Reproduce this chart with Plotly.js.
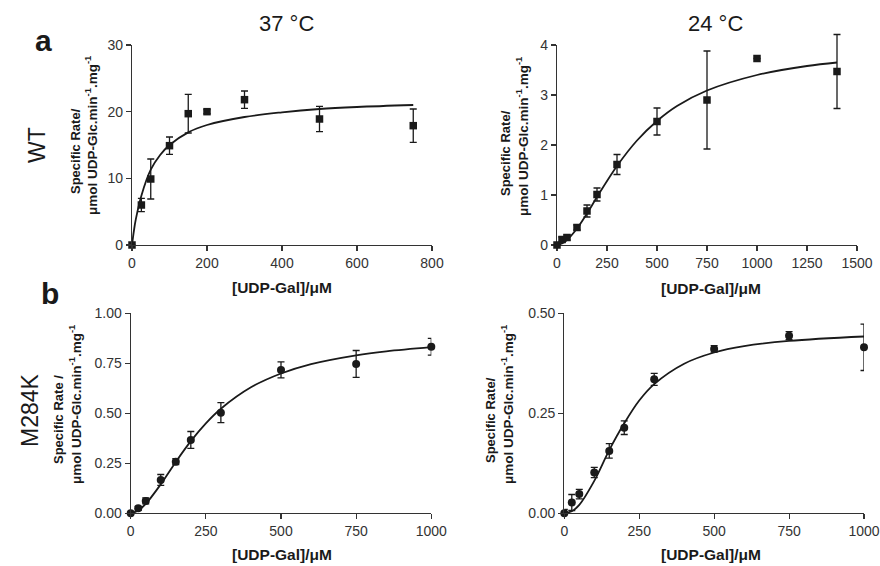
<!DOCTYPE html>
<html>
<head>
<meta charset="utf-8">
<script src="https://cdn.plot.ly/plotly-3.0.1.min.js"></script>
<style>html,body{margin:0;padding:0;background:#fff;}#chart{width:880px;height:566px;}</style>
</head>
<body>
<div id="chart"></div>
<script>
// ---- Data ----
// WT, 37 °C
const wt37X   = [0, 25, 50, 100, 150, 200, 300, 500, 750];
const wt37Y   = [0, 6.0, 9.9, 14.9, 19.7, 20.0, 21.8, 18.9, 17.9];
const wt37Err = [0, 1.0, 3.0, 1.3, 2.9, 0.3, 1.3, 1.9, 2.5];
const wt37FitX = [0, 5, 10, 25, 50, 75, 100, 150, 200, 300, 400, 500, 600, 750];
const wt37FitY = [0, 2.1, 3.8, 7.4, 11.3, 13.5, 15.0, 16.9, 18.0, 19.2, 19.9, 20.4, 20.7, 21.0];
// WT, 24 °C
const wt24X   = [0, 25, 50, 100, 150, 200, 300, 500, 750, 1000, 1400];
const wt24Y   = [0, 0.11, 0.15, 0.35, 0.68, 1.01, 1.61, 2.47, 2.90, 3.73, 3.47];
const wt24Err = [0, 0.05, 0.05, 0.05, 0.12, 0.13, 0.20, 0.27, 0.98, 0, 0.74];
const wt24FitX = [0, 25, 50, 100, 150, 200, 300, 400, 500, 600, 750, 1000, 1250, 1400];
const wt24FitY = [0, 0.03, 0.10, 0.33, 0.63, 0.96, 1.58, 2.09, 2.48, 2.78, 3.09, 3.40, 3.58, 3.65];
// M284K, 37 °C
const m37X   = [0, 25, 50, 100, 150, 200, 300, 500, 750, 1000];
const m37Y   = [0, 0.025, 0.062, 0.167, 0.258, 0.367, 0.503, 0.717, 0.747, 0.833];
const m37Err = [0, 0.01, 0.015, 0.027, 0.015, 0.042, 0.05, 0.04, 0.067, 0.042];
const m37FitX = [0, 25, 50, 100, 150, 200, 250, 300, 400, 500, 600, 750, 850, 1000];
const m37FitY = [0, 0.014, 0.047, 0.145, 0.257, 0.361, 0.45, 0.523, 0.630, 0.699, 0.746, 0.790, 0.810, 0.831];
// M284K, 24 °C
const m24X   = [0, 25, 50, 100, 150, 200, 300, 500, 750, 1000];
const m24Y   = [0, 0.027, 0.048, 0.102, 0.156, 0.214, 0.335, 0.411, 0.444, 0.415];
const m24Err = [0.01, 0.02, 0.012, 0.013, 0.018, 0.017, 0.015, 0.008, 0.01, 0.058];
const m24FitX = [0, 25, 50, 100, 150, 200, 250, 300, 400, 500, 600, 750, 1000];
const m24FitY = [0, 0.005, 0.021, 0.081, 0.158, 0.225, 0.282, 0.323, 0.374, 0.402, 0.418, 0.431, 0.442];

const colTitles = ['37 °C', '24 °C'];
const rowLabels = ['WT', 'M284K'];
const panelLetters = ['a', 'b'];
const xTitle = '[UDP-Gal]/μM';
const yTitleLine1 = 'Specific Rate/';
const yTitleLine1M37 = 'Specific Rate /';
const yTitleLine2 = 'μmol UDP-Glc.min<sup>-1</sup>.mg<sup>-1</sup>';

// ---- Styling ----
const FONT = 'Arial, "Liberation Sans", Helvetica, sans-serif';
const INK = '#1a1a1a';
const W = 880, H = 566;
const px = v => v / W;
const py = v => 1 - v / H;

function pointsTrace(x, y, err, sym, xa, ya) {
  return {
    type: 'scatter', mode: 'markers', x: x, y: y, xaxis: xa, yaxis: ya,
    marker: {symbol: sym, size: sym === 'square' ? 7.5 : 8, color: INK},
    error_y: {type: 'data', array: err, visible: true, color: INK, thickness: 1.3, width: 3.5},
    cliponaxis: false, showlegend: false, hoverinfo: 'x+y'
  };
}
function fitTrace(x, y, xa, ya) {
  return {
    type: 'scatter', mode: 'lines', x: x, y: y, xaxis: xa, yaxis: ya,
    line: {color: INK, width: 1.8, shape: 'spline', smoothing: 1.0},
    cliponaxis: false, showlegend: false, hoverinfo: 'skip'
  };
}

const traces = [
  fitTrace(wt37FitX, wt37FitY, 'x', 'y'),
  pointsTrace(wt37X, wt37Y, wt37Err, 'square', 'x', 'y'),
  fitTrace(wt24FitX, wt24FitY, 'x2', 'y2'),
  // drawn on a hidden twin axis with the same scale but taller domain so the
  // error bar above 4 is not clipped
  pointsTrace(wt24X, wt24Y, wt24Err, 'square', 'x5', 'y5'),
  fitTrace(m37FitX, m37FitY, 'x3', 'y3'),
  pointsTrace(m37X, m37Y, m37Err, 'circle', 'x3', 'y3'),
  fitTrace(m24FitX, m24FitY, 'x4', 'y4'),
  pointsTrace(m24X, m24Y, m24Err, 'circle', 'x4', 'y4')
];

function axis(domain, range, dtick, anchor, fmt) {
  const a = {
    domain: domain, range: range, dtick: dtick, tick0: 0, anchor: anchor,
    showline: true, linecolor: '#333', linewidth: 1.1,
    ticks: 'outside', ticklen: 5, tickwidth: 1.1, tickcolor: '#333',
    showgrid: false, zeroline: false,
    tickfont: {family: FONT, size: 14, color: '#333'},
    fixedrange: true
  };
  if (fmt) a.tickformat = fmt;
  return a;
}
function hiddenAxis(domain, range, anchor) {
  return {domain: domain, range: range, anchor: anchor, visible: false,
          showgrid: false, zeroline: false, fixedrange: true};
}

const topY = [py(245), py(45)];
const botY = [py(513.3), py(313.3)];

const layout = {
  width: W, height: H,
  margin: {l: 0, r: 0, t: 0, b: 0},
  paper_bgcolor: '#fff', plot_bgcolor: 'rgba(0,0,0,0)',
  showlegend: false,
  xaxis:  axis([px(132), px(432)], [0, 800], 200, 'y'),
  yaxis:  axis(topY, [0, 30], 10, 'x'),
  xaxis2: axis([px(557), px(857)], [0, 1500], 250, 'y2'),
  yaxis2: axis(topY, [0, 4], 1, 'x2'),
  xaxis3: axis([px(130.7), px(431.3)], [0, 1000], 250, 'y3'),
  yaxis3: axis(botY, [0, 1], 0.25, 'x3', '.2f'),
  xaxis4: axis([px(564.3), px(864)], [0, 1000], 250, 'y4'),
  yaxis4: axis(botY, [0, 0.5], 0.25, 'x4', '.2f'),
  xaxis5: hiddenAxis([px(557), px(857)], [0, 1500], 'y5'),
  yaxis5: hiddenAxis([py(245), py(25)], [0, 4.4], 'x5'),
  annotations: []
};

const ann = layout.annotations;
function addText(text, x, y, size, opts, bold) {
  ann.push(Object.assign({
    text: text, x: px(x), y: py(y), xref: 'paper', yref: 'paper',
    xanchor: 'center', yanchor: 'middle', showarrow: false,
    font: {family: FONT, size: size, color: INK, weight: bold ? 'bold' : 'normal'}
  }, opts || {}));
}
const rot = {textangle: -90};
// column titles
addText(colTitles[0], 286, 24, 22);
addText(colTitles[1], 715, 24, 22);
// panel letters
addText(panelLetters[0], 43, 41, 30, null, true);
addText(panelLetters[1], 50, 293, 30, null, true);
// row labels
addText(rowLabels[0], 37, 145, 23, rot);
addText(rowLabels[1], 30, 410, 23, rot);
// x titles
addText(xTitle, 282, 287, 15.5, null, true);
addText(xTitle, 711, 288, 15.5, null, true);
addText(xTitle, 282, 554, 15.5, null, true);
addText(xTitle, 711, 554, 15.5, null, true);
// y titles (two lines each)
addText(yTitleLine1, 75, 151, 13, rot, true);
addText(yTitleLine2, 91, 136, 13.5, rot, true);
addText(yTitleLine1, 506, 153, 13, rot, true);
addText(yTitleLine2, 522, 137, 13.5, rot, true);
addText(yTitleLine1M37, 58, 419, 13, rot, true);
addText(yTitleLine2, 75, 405, 13.5, rot, true);
addText(yTitleLine1, 490, 420, 13, rot, true);
addText(yTitleLine2, 507, 405, 13.5, rot, true);

Plotly.newPlot('chart', traces, layout, {displayModeBar: false, staticPlot: true});
</script>
</body>
</html>
